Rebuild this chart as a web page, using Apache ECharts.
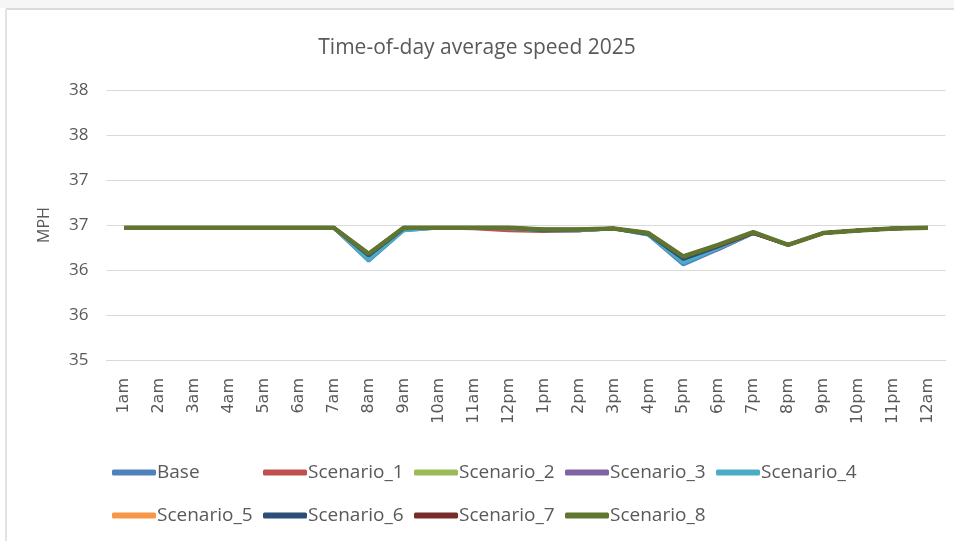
<!DOCTYPE html>
<html>
<head>
<meta charset="utf-8">
<script src="https://cdn.jsdelivr.net/npm/echarts@6/dist/echarts.min.js"></script>
<style>
  html, body { margin: 0; padding: 0; background: #fff; }
  #chart { width: 954px; height: 541px; }
</style>
</head>
<body>
<div id="chart"></div>
<script>
// categories
const hours = ['1am', '2am', '3am', '4am', '5am', '6am', '7am', '8am', '9am', '10am', '11am', '12pm',
  '1pm', '2pm', '3pm', '4pm', '5pm', '6pm', '7pm', '8pm', '9pm', '10pm', '11pm', '12am']

// average speed (MPH) per scenario
const base = [36.47, 36.47, 36.47, 36.47, 36.47, 36.47, 36.47, 36.10, 36.44, 36.47, 36.47, 36.46,
  36.44, 36.44, 36.46, 36.39, 36.06, 36.23, 36.41, 36.28, 36.41, 36.44, 36.46, 36.47]
const scenario1 = [36.47, 36.47, 36.47, 36.47, 36.47, 36.47, 36.47, 36.17, 36.46, 36.47, 36.46, 36.44,
  36.43, 36.44, 36.46, 36.40, 36.13, 36.26, 36.41, 36.28, 36.41, 36.44, 36.46, 36.47]
const scenario2 = [36.47, 36.47, 36.47, 36.47, 36.47, 36.47, 36.47, 36.18, 36.47, 36.47, 36.47, 36.47,
  36.45, 36.45, 36.46, 36.41, 36.15, 36.27, 36.41, 36.28, 36.41, 36.44, 36.46, 36.47]
const scenario3 = [36.47, 36.47, 36.47, 36.47, 36.47, 36.47, 36.47, 36.15, 36.45, 36.47, 36.47, 36.46,
  36.44, 36.44, 36.46, 36.40, 36.10, 36.23, 36.41, 36.28, 36.41, 36.44, 36.46, 36.47]
const scenario4 = [36.47, 36.47, 36.47, 36.47, 36.47, 36.47, 36.47, 36.11, 36.44, 36.47, 36.47, 36.46,
  36.44, 36.44, 36.46, 36.39, 36.08, 36.24, 36.41, 36.28, 36.41, 36.44, 36.46, 36.47]
const scenario5 = [36.47, 36.47, 36.47, 36.47, 36.47, 36.47, 36.47, 36.18, 36.47, 36.47, 36.47, 36.47,
  36.45, 36.45, 36.46, 36.41, 36.15, 36.27, 36.41, 36.28, 36.41, 36.44, 36.46, 36.47]
const scenario6 = [36.47, 36.47, 36.47, 36.47, 36.47, 36.47, 36.47, 36.16, 36.46, 36.47, 36.47, 36.47,
  36.44, 36.45, 36.46, 36.40, 36.12, 36.26, 36.41, 36.28, 36.41, 36.44, 36.46, 36.47]
const scenario7 = [36.47, 36.47, 36.47, 36.47, 36.47, 36.47, 36.47, 36.18, 36.47, 36.47, 36.47, 36.47,
  36.45, 36.45, 36.46, 36.41, 36.15, 36.27, 36.41, 36.28, 36.41, 36.44, 36.46, 36.47]
const scenario8 = [36.47, 36.47, 36.47, 36.47, 36.47, 36.47, 36.47, 36.18, 36.47, 36.47, 36.47, 36.47,
  36.45, 36.45, 36.46, 36.41, 36.15, 36.28, 36.42, 36.28, 36.41, 36.44, 36.46, 36.47]

const seriesNames = ['Base', 'Scenario_1', 'Scenario_2', 'Scenario_3', 'Scenario_4',
  'Scenario_5', 'Scenario_6', 'Scenario_7', 'Scenario_8']
const seriesData = [base, scenario1, scenario2, scenario3, scenario4,
  scenario5, scenario6, scenario7, scenario8]
const colors = ['#4F81BD', '#C0504D', '#9BBB59', '#8064A2', '#4BACC6',
  '#F79646', '#2C4D75', '#772C2A', '#5F7530']

const textColor = '#595959'

const chart = echarts.init(document.getElementById('chart'))

// Excel style legend: fixed columns, two rows
const legends = seriesNames.map((name, i) => ({
  data: [name],
  left: 107 + (i % 5) * 151,
  top: i < 5 ? 458 : 501,
  itemWidth: 44,
  itemHeight: 6,
  itemGap: 0,
  icon: 'roundRect',
  textStyle: { color: textColor, fontSize: 19, fontFamily: 'Open Sans', padding: [0, 0, 0, -4] }
}))

const option = {
  animation: false,
  backgroundColor: '#fff',
  color: colors,
  title: {
    text: 'Time-of-day average speed 2025',
    left: 'center',
    top: 33,
    textStyle: { color: textColor, fontSize: 21, fontWeight: 'normal', fontFamily: 'Open Sans' }
  },
  legend: legends,
  grid: { left: 106.5, right: 8.5, top: 90, bottom: 181, containLabel: false },
  xAxis: {
    type: 'category',
    data: hours,
    boundaryGap: true,
    axisLine: { lineStyle: { color: '#d9d9d9' } },
    axisTick: { show: false },
    axisLabel: {
      rotate: 90,
      margin: 18,
      interval: 0,
      color: textColor,
      fontSize: 16,
      fontFamily: 'DejaVu Sans'
    }
  },
  yAxis: {
    type: 'value',
    min: 35,
    max: 38,
    interval: 0.5,
    name: 'MPH',
    nameLocation: 'middle',
    nameGap: 54,
    nameTextStyle: { color: textColor, fontSize: 16, fontFamily: 'Open Sans' },
    axisLine: { show: false },
    axisTick: { show: false },
    splitLine: { lineStyle: { color: '#d9d9d9' } },
    axisLabel: {
      margin: 18,
      color: textColor,
      fontSize: 17,
      fontFamily: 'Open Sans',
      formatter: (v) => String(Math.round(v))
    }
  },
  series: seriesNames.map((name, i) => ({
    name: name,
    type: 'line',
    data: seriesData[i],
    symbol: 'none',
    lineStyle: { width: i === 8 ? 4.5 : 3.5 }
  })),
  graphic: [
    { type: 'rect', shape: { x: 0, y: 0, width: 954, height: 8 }, style: { fill: '#f6f6f6' } },
    { type: 'line', shape: { x1: 6, y1: 9, x2: 954, y2: 9 }, style: { stroke: '#dcdada', lineWidth: 2 } },
    { type: 'line', shape: { x1: 6, y1: 9, x2: 6, y2: 541 }, style: { stroke: '#e4e4e4', lineWidth: 2 } }
  ]
}

chart.setOption(option)
</script>
</body>
</html>
